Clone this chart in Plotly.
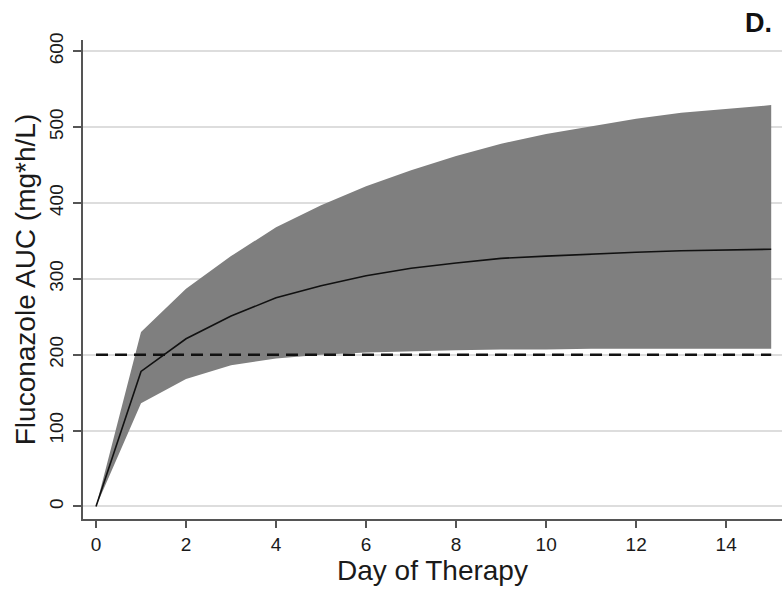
import plotly.graph_objects as go

days = list(range(0, 16))
mean_auc = [0, 178, 221, 251, 275, 291, 304, 314, 321, 327, 330, 333, 335, 337, 338, 339]
upper_auc = [0, 230, 287, 330, 368, 397, 422, 443, 462, 478, 491, 501, 511, 519, 524, 529]
lower_auc = [0, 136, 168, 186, 195, 200, 203, 205, 206, 207, 207, 208, 208, 208, 208, 208]
target_auc = 200
x_ticks = [0, 2, 4, 6, 8, 10, 12, 14]
y_ticks = [0, 100, 200, 300, 400, 500, 600]

FONT = "Liberation Sans, Arial, sans-serif"

fig = go.Figure()
fig.add_trace(go.Scatter(x=days, y=lower_auc, mode="lines", line=dict(width=0, color="#7f7f7f"),
                         showlegend=False, hoverinfo="skip"))
fig.add_trace(go.Scatter(x=days, y=upper_auc, mode="lines", line=dict(width=0, color="#7f7f7f"),
                         fill="tonexty", fillcolor="#7f7f7f", showlegend=False))
fig.add_trace(go.Scatter(x=[days[0], days[-1]], y=[target_auc, target_auc], mode="lines",
                         line=dict(color="#111111", width=2.5, dash="12px,7px"), showlegend=False))
fig.add_trace(go.Scatter(x=days, y=mean_auc, mode="lines", line=dict(color="#111111", width=1.6),
                         showlegend=False))

fig.update_layout(
    width=782, height=589,
    margin=dict(l=83, r=0, t=40, b=70),
    paper_bgcolor="white", plot_bgcolor="white",
    font=dict(family=FONT, color="#1a1a1a"),
    xaxis=dict(range=[-0.289, 15.24], tickvals=x_ticks, showgrid=False, zeroline=False,
               showline=True, linecolor="#555555", linewidth=1.5,
               ticks="outside", ticklen=7, tickwidth=1.5, tickcolor="#555555",
               tickfont=dict(size=19, family=FONT, color="#1a1a1a"),
               title=dict(text="Day of Therapy", font=dict(size=28, family=FONT, color="#1a1a1a"), standoff=2)),
    yaxis=dict(range=[-16.5, 614.8], tickvals=y_ticks, showgrid=True, gridcolor="#dddddd", gridwidth=1.5,
               zeroline=False, showline=True, linecolor="#555555", linewidth=1.5,
               ticks="outside", ticklen=8, tickwidth=1.5, tickcolor="#555555", tickangle=-90,
               ticklabelstandoff=3,
               tickfont=dict(size=19, family=FONT, color="#1a1a1a"),
               title=dict(text="Fluconazole AUC (mg*h/L)", font=dict(size=28, family=FONT, color="#1a1a1a"), standoff=2)),
    annotations=[dict(text="<b>D.</b>", x=758, y=23, xref="paper", yref="paper", showarrow=False,
                      font=dict(size=27, family=FONT, color="#111111"))],
)
fig.layout.annotations[0].update(x=(758 - 83) / (782 - 83), y=(589 - 70 - 23) / (589 - 70 - 40),
                                 xanchor="center", yanchor="middle")
fig.write_html("out.html")
